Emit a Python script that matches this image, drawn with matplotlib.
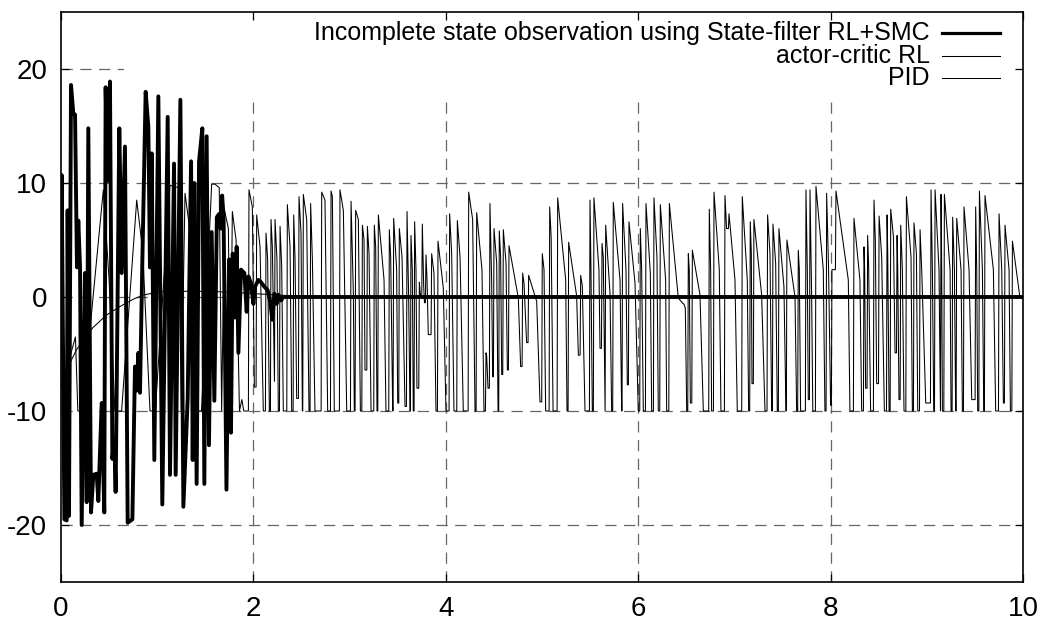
import matplotlib
matplotlib.use("Agg")
import matplotlib.pyplot as plt
from matplotlib.lines import Line2D
from matplotlib.patches import Rectangle

plt.rcParams['font.family'] = ['Liberation Sans', 'DejaVu Sans']

labels = ["Incomplete state observation using State-filter RL+SMC", "actor-critic RL", "PID"]
x_ticks = [0, 2, 4, 6, 8, 10]
y_ticks = [-20, -10, 0, 10, 20]

# State-filter RL+SMC (thick line), vertices
smc_t = [0.000, 0.007, 0.035, 0.059, 0.069, 0.083, 0.104, 0.128, 0.146, 0.166, 0.180, 0.198,
         0.215, 0.249, 0.267, 0.284, 0.312, 0.336, 0.371, 0.388, 0.423, 0.450, 0.464, 0.485,
         0.509, 0.534, 0.554, 0.568, 0.606, 0.631, 0.665, 0.693, 0.742, 0.769, 0.787, 0.804,
         0.821, 0.846, 0.880, 0.908, 0.925, 0.943, 0.970, 1.012, 1.053, 1.109, 1.133, 1.175,
         1.192, 1.241, 1.272, 1.317, 1.352, 1.369, 1.386, 1.410, 1.435, 1.469, 1.490, 1.514,
         1.538, 1.566, 1.594, 1.620, 1.645, 1.660, 1.675, 1.690, 1.720, 1.747, 1.767, 1.785,
         1.809, 1.826, 1.844, 1.871, 1.906, 1.930, 1.948, 1.975, 2.000, 2.017, 2.052, 2.079,
         2.114, 2.148, 2.172, 2.197, 2.218, 2.242, 2.259, 2.287, 2.311, 2.346, 10.0]
smc_v = [0.0, 10.7, -19.5, -19.6, 7.6, -19.2, 18.6, 16.1, 16.0, 2.6, 6.7, 2.6,
         -20.0, 2.1, -18.0, 14.8, -18.9, -15.6, -15.5, -17.9, -9.3, -18.9, 18.4, 10.2,
         18.9, -14.2, -12.4, -17.1, 14.8, 2.1, 13.2, -19.8, -19.5, -6.1, -8.2, -4.9,
         -8.4, 3.3, 18.0, 14.9, 2.6, 12.6, -14.3, 17.6, -18.2, 15.8, -15.6, 11.7,
         -15.6, 17.3, -18.4, -8.9, 11.9, -14.3, 10.0, -16.4, 11.9, 14.8, -16.4, 14.1,
         -13.0, 5.7, -9.1, 7.0, 7.3, 6.0, 8.9, 7.0, -16.9, 3.3, -11.9, 3.8,
         -1.8, 4.4, -4.9, 2.4, 2.1, -1.3, 1.8, 1.2, -0.6, 0.9, 1.5, 1.3,
         0.9, 0.6, -0.3, -2.0, 0.3, -0.6, 0.2, -0.3, 0.0, 0.0, 0.0]

# actor-critic RL, start (mostly hidden behind the thick line)
ac_start_t = [0.00, 0.02, 0.15, 0.175, 0.22, 0.44, 0.50, 0.56, 0.63, 0.787, 0.85, 0.925,
              0.98, 1.133, 1.22, 1.25, 1.289, 1.40, 1.43, 1.46, 1.566, 1.60, 1.645, 1.67,
              1.70, 1.74, 1.76, 1.781, 1.82, 1.855, 1.88, 1.90]
ac_start_v = [0.0, -7.5, -3.5, -10.0, -10.0, 9.4, 1.5, -10.0, -10.0, 8.5, 4.0, -10.0,
              -10.0, 9.8, 9.6, -10.0, 9.1, 2.0, -10.0, -10.0, 9.9, 9.9, 9.6, -10.0,
              7.6, 6.0, -10.0, 7.5, 5.0, -10.0, -9.0, -10.0]

# actor-critic RL pulses: (t peak, v peak, t drop, v drop, t bottom, v bottom)
ac_pulses = [
    (1.954, 9.4, 1.989, 7.9, 2.010, -7.9), (2.034, 7.2, 2.069, 4.4, 2.103, -10),
    (2.131, 5.6, 2.148, 3.3, 2.166, -10), (2.183, 6.8, 2.197, 4.4, 2.218, -7.4),
    (2.225, 6.8, 2.245, 3.3, 2.259, -10), (2.277, 6.2, 2.294, 2.7, 2.311, -10),
    (2.353, 8.1, 2.381, 4.4, 2.398, -10), (2.419, 7.2, 2.433, 3.3, 2.450, -8.9),
    (2.474, 8.8, 2.495, 5.6, 2.509, -10), (2.519, 9.0, 2.554, 6.8, 2.578, -10),
    (2.595, 8.2, 2.613, 3.3, 2.640, -10), (2.710, 9.2, 2.744, 8.5, 2.772, -10),
    (2.807, 9.3, 2.821, 8.8, 2.841, -10), (2.900, 9.4, 2.935, 7.6, 2.970, -10),
    (3.015, 8.4, 3.039, 0.3, 3.049, -10), (3.063, 7.6, 3.091, 6.8, 3.112, -10),
    (3.133, 6.3, 3.150, 5.0, 3.160, -6.4), (3.185, 6.2, 3.202, 3.8, 3.223, -10),
    (3.257, 6.3, 3.271, 4.4, 3.285, -10), (3.299, 7.2, 3.358, 1.5, 3.378, -10),
    (3.413, 5.9, 3.427, 3.5, 3.448, -10), (3.458, 6.9, 3.489, 2.4, 3.500, -9.3),
    (3.517, 6.0, 3.545, 3.5, 3.576, -9.6), (3.597, 7.5, 3.614, -0.1, 3.628, -10),
    (3.638, 5.4, 3.652, 2.4, 3.662, -10), (3.676, 6.6, 3.690, 2.4, 3.700, -8.0),
    (3.725, 1.3, 3.732, 0.5, 3.740, 0.0), (3.756, 6.4, 3.770, 1.0, 3.778, -0.5),
    (3.794, 3.7, 3.805, 1.5, 3.818, -3.3), (3.853, 3.8, 3.877, 2.1, 3.898, -10),
    (3.919, 4.9, 3.974, 0.8, 4.002, -10), (4.040, 7.3, 4.061, 3.8, 4.085, -10),
    (4.120, 6.7, 4.148, 3.5, 4.182, -10), (4.238, 9.2, 4.279, 6.8, 4.304, -10),
    (4.321, 7.4, 4.376, 2.4, 4.397, -10), (4.418, -4.9, 4.425, -5.2, 4.439, -8.0),
    (4.459, 8.2, 4.477, 1.2, 4.487, -7.0), (4.501, 6.0, 4.529, 3.0, 4.543, -10),
    (4.556, 5.8, 4.570, 3.5, 4.581, -6.8), (4.598, 5.9, 4.626, 3.0, 4.640, -6.4),
    (4.657, 4.5, 4.754, -0.1, 4.778, -6.1), (4.799, 2.1, 4.813, 1.2, 4.840, -4.0),
    (4.861, 1.9, 4.945, -0.4, 4.979, -9.2), (5.003, 3.8, 5.021, 2.4, 5.038, -10),
    (5.080, 7.9, 5.095, 5.3, 5.115, -10), (5.163, 8.7, 5.246, 1.5, 5.260, -10),
    (5.277, 4.8, 5.360, 0.1, 5.378, -5.1), (5.402, 1.9, 5.419, 1.0, 5.447, -10),
    (5.499, 8.5, 5.509, 2.4, 5.523, -10), (5.540, 8.7, 5.592, 2.4, 5.603, -4.5),
    (5.624, 4.7, 5.637, 3.5, 5.655, -10), (5.662, 6.3, 5.707, 0.3, 5.724, -10),
    (5.741, 8.3, 5.811, 1.5, 5.828, -10), (5.838, 8.2, 5.873, 2.4, 5.887, -7.7),
    (5.904, 6.6, 5.967, 1.2, 6.001, -10), (6.022, 6.0, 6.036, 2.4, 6.053, -10),
    (6.081, 8.2, 6.126, 2.1, 6.140, -10), (6.164, 8.7, 6.195, 3.5, 6.209, -10),
    (6.230, 8.1, 6.285, 1.5, 6.296, -10), (6.324, 8.2, 6.417, -0.1, 6.469, -0.6),
    (6.480, -0.7, 6.490, -1.0, 6.504, -10), (6.521, 3.8, 6.531, 2.4, 6.542, -9.3),
    (6.563, 4.1, 6.642, 0.2, 6.677, -10), (6.739, 7.7, 6.753, 2.4, 6.763, -10),
    (6.788, 9.2, 6.843, 2.4, 6.860, -10), (6.902, 8.9, 6.919, 6.0, 6.925, 6.0),
    (6.944, 7.3, 7.006, 1.5, 7.030, -10), (7.082, 8.8, 7.134, 1.5, 7.148, -10),
    (7.165, 6.6, 7.176, 3.8, 7.183, -7.6), (7.203, 6.8, 7.283, 0.2, 7.318, -10),
    (7.345, 7.2, 7.370, 3.8, 7.387, -10), (7.401, 6.4, 7.429, 2.9, 7.446, -10),
    (7.463, 6.0, 7.515, 0.9, 7.536, -10), (7.546, 5.0, 7.630, 0.0, 7.647, -10),
    (7.664, 4.1, 7.675, 2.4, 7.688, -10), (7.744, 9.4, 7.758, 2.4, 7.768, -9.0),
    (7.786, 9.4, 7.803, 0.0, 7.815, -10), (7.848, 9.7, 7.924, 2.4, 7.941, -10),
    (7.959, 9.1, 7.979, 2.4, 8.000, -9.5), (8.014, 2.4, 8.035, 2.4, 8.047, 2.4),
    (8.056, 9.3, 8.184, 1.5, 8.201, -10), (8.243, 6.9, 8.305, 1.5, 8.323, -10),
    (8.347, 4.4, 8.354, 2.4, 8.364, -8.0), (8.385, 5.4, 8.395, 2.9, 8.416, -10),
    (8.451, 8.5, 8.465, 5.0, 8.479, -7.6), (8.504, 7.1, 8.531, 3.5, 8.559, -10),
    (8.587, 7.2, 8.594, 3.8, 8.608, -10), (8.625, 7.7, 8.653, 5.3, 8.670, -4.9),
    (8.691, 5.4, 8.698, 2.4, 8.711, -9.0), (8.729, 6.3, 8.746, 2.4, 8.763, -10),
    (8.788, 8.8, 8.836, 3.5, 8.850, -10), (8.867, 6.5, 8.892, 3.8, 8.906, -10),
    (8.930, 5.9, 8.947, 2.4, 8.989, -9.3), (9.044, 9.4, 9.058, 2.4, 9.072, -10),
    (9.086, 9.4, 9.127, 2.4, 9.141, -10), (9.148, 9.0, 9.155, 2.4, 9.162, -10),
    (9.183, 9.0, 9.242, 2.4, 9.252, -10), (9.269, 7.0, 9.287, 2.4, 9.300, -10),
    (9.311, 6.9, 9.356, 2.4, 9.370, -10), (9.387, 7.9, 9.439, 2.4, 9.467, -9.0),
    (9.508, 7.9, 9.519, 2.4, 9.529, -10), (9.547, 9.3, 9.578, 2.4, 9.592, -10),
    (9.605, 8.9, 9.692, 2.4, 9.716, -10), (9.751, 7.3, 9.779, 2.4, 9.796, -9.3),
    (9.813, 6.3, 9.855, 2.4, 9.869, -10), (9.890, 4.9, 9.969, -0.1, 10.0, -0.1),
]

# PID
pid_t = [0.0, 0.007, 0.08, 0.163, 0.33, 0.47, 0.61, 0.75, 0.855, 1.03, 1.3, 1.55, 1.8,
         2.0, 2.3, 2.6, 3.0, 10.0]
pid_v = [-8.0, -7.5, -6.0, -4.6, -2.7, -1.6, -0.85, -0.2, 0.17, 0.47, 0.5, 0.5, 0.4,
         0.3, 0.15, 0.05, 0.0, 0.0]

# the controller sits at its bottom value until just before each rise
ac_t = list(ac_start_t)
ac_v = list(ac_start_v)
for tp, vp, td, vd, tb, vb in ac_pulses:
    if tp - 0.006 > ac_t[-1]:
        ac_t.append(tp - 0.006)
        ac_v.append(ac_v[-1])
    ac_t += [tp, td, tb]
    ac_v += [vp, vd, vb]

fig = plt.figure(figsize=(10.45, 6.21), dpi=100)
ax = fig.add_axes([61 / 1045, 39 / 621, 962 / 1045, 570 / 621])

# grid
for x in x_ticks[1:-1]:
    ax.axvline(x, color="#666666", lw=0.9, ls=(0, (9, 6)), zorder=0.5)
for y in y_ticks:
    ax.axhline(y, color="#666666", lw=0.9, ls=(0, (9, 6)), zorder=0.5)

# key area is opaque
ax.add_patch(Rectangle((0.066, 0.855), 0.931, 0.143, transform=ax.transAxes,
                       facecolor="white", edgecolor="none", zorder=1))

ax.plot(smc_t, smc_v, color="black", lw=2.8, zorder=2)
ax.plot(ac_t, ac_v, color="black", lw=0.75, zorder=3)
ax.plot(pid_t, pid_v, color="black", lw=0.75, zorder=3)

# key
rows = [0.963, 0.923, 0.884]
widths = [2.3, 0.75, 0.75]
for lab, ya, w in zip(labels, rows, widths):
    ax.text(0.903, ya, lab, transform=ax.transAxes, ha="right", va="center",
            fontsize=18, zorder=4)
    ax.add_line(Line2D([0.916, 0.976], [ya, ya], transform=ax.transAxes,
                       color="black", lw=w, zorder=4))

ax.set_xlim(0, 10)
ax.set_ylim(-25, 25)
ax.set_xticks(x_ticks)
ax.set_yticks(y_ticks)
ax.set_xticklabels([str(v) for v in x_ticks])
ax.set_yticklabels([str(v) for v in y_ticks])
ax.tick_params(direction="in", length=6, width=0.9, top=True, right=True,
               labelsize=20, pad=10)
for s in ax.spines.values():
    s.set_linewidth(1.2)
    s.set_zorder(5)

fig.savefig("out.png", dpi=100)
